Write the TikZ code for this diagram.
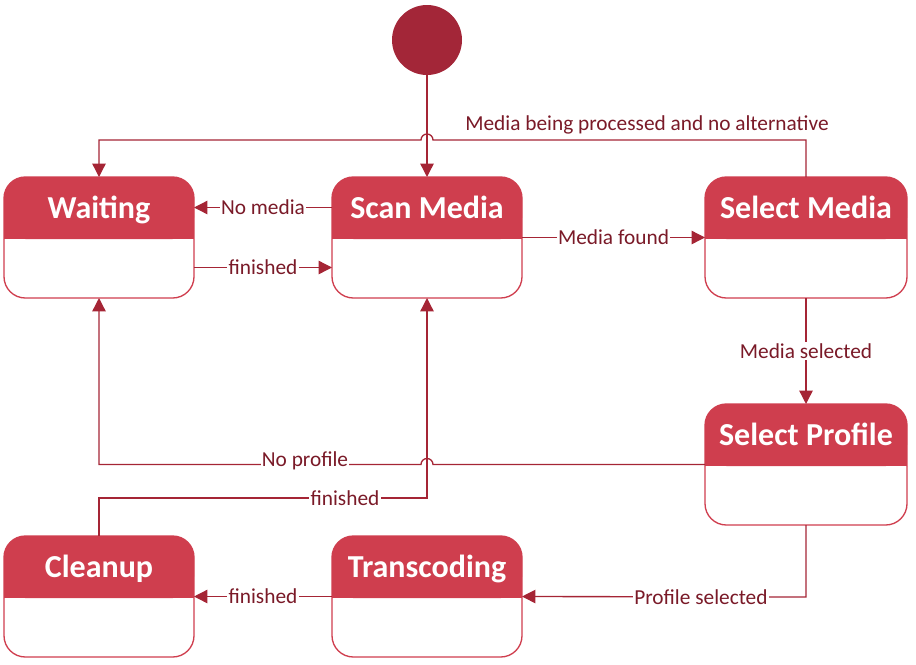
\documentclass[tikz,border=0pt]{standalone}
\usepackage{fontspec}
\setmainfont{Carlito}
\usetikzlibrary{arrows.meta,calc}
\definecolor{boxred}{HTML}{CF3E4E}
\definecolor{linered}{HTML}{A52535}
\definecolor{labred}{HTML}{7A1A28}
\definecolor{initred}{HTML}{A32638}
\tikzset{
  x=0.75pt,y=-0.75pt,
  conn/.style={draw=linered,line width=1pt},
  arr/.style={conn,-{Triangle[length=10pt,width=10pt]}},
  lab/.style={fill=white,text=labred,font=\fontsize{16}{18}\selectfont,inner sep=1pt},
  title/.style={text=white,font=\bfseries\fontsize{24}{28}\selectfont,anchor=base}
}
\begin{document}
\begin{tikzpicture}
\useasboundingbox (0,0) rectangle (916,664);
\fill[initred] (427,40) circle[radius=35*0.75pt];
\node[minimum size=1pt,inner sep=0pt] (init) at (427,40) {};
\coordinate (initb) at (427,75);
% states
\foreach \nm/\xx/\yy/\ww/\tt in {wait/4/177/190/Waiting, scan/332/177/190/Scan Media, selm/705/177/202/Select Media, selp/705/404/202/Select Profile, clean/4/536/190/Cleanup, trans/332/536/190/Transcoding}{
  \begin{scope}[shift={(\xx,\yy)}]
    \fill[boxred,rounded corners=16pt] (0,62) -- (0,0) -- (\ww,0) -- (\ww,62) -- cycle;
    \fill[boxred] (0,40) rectangle (\ww,62);
    \draw[boxred,line width=1pt,rounded corners=16pt] (0,62) -- (0,121) -- (\ww,121) -- (\ww,62);
    \draw[boxred,line width=1pt,rounded corners=16pt] (0,62) -- (0,0) -- (\ww,0) -- (\ww,62);
    \node[title] at (\ww/2,41) {\tt};
    \node[minimum width=\ww*0.75pt,minimum height=90.75pt,inner sep=0pt,outer sep=0pt] (\nm) at (\ww/2,60.5) {};
  \end{scope}
}
% connectors
\draw[arr] (initb) -- (scan.north);
\draw[arr] (selm.north) -- (806,140) -- (433,140) arc[start angle=0,end angle=180,radius=4.5pt] -- (99,140) -- (wait.north);
\node[lab,fill=none] at (647,125) {Media being processed and no alternative};
\draw[arr] ($(scan.west)+(0,-30)$) -- node[lab]{No media} ($(wait.east)+(0,-30)$);
\draw[arr] ($(wait.east)+(0,30)$) -- node[lab]{finished} ($(scan.west)+(0,30)$);
\draw[arr] (scan.east) -- node[lab]{Media found} (selm.west);
\draw[arr] (selm.south) -- node[lab]{Media selected} (selp.north);
\draw[arr] (selp.west) -- (433,464.5) arc[start angle=0,end angle=180,radius=4.5pt] -- (99,464.5) -- (wait.south);
\node[lab] at (305,461) {No profile};
\draw[arr] (clean.north) -- (99,498) -- node[lab,pos=0.75]{finished} (427,498) -- (scan.south);
\draw[arr] (selp.south) -- (806,597) -- node[lab,pos=0.37]{Profile selected} (trans.east);
\draw[arr] (trans.west) -- node[lab]{finished} (clean.east);
\end{tikzpicture}
\end{document}
